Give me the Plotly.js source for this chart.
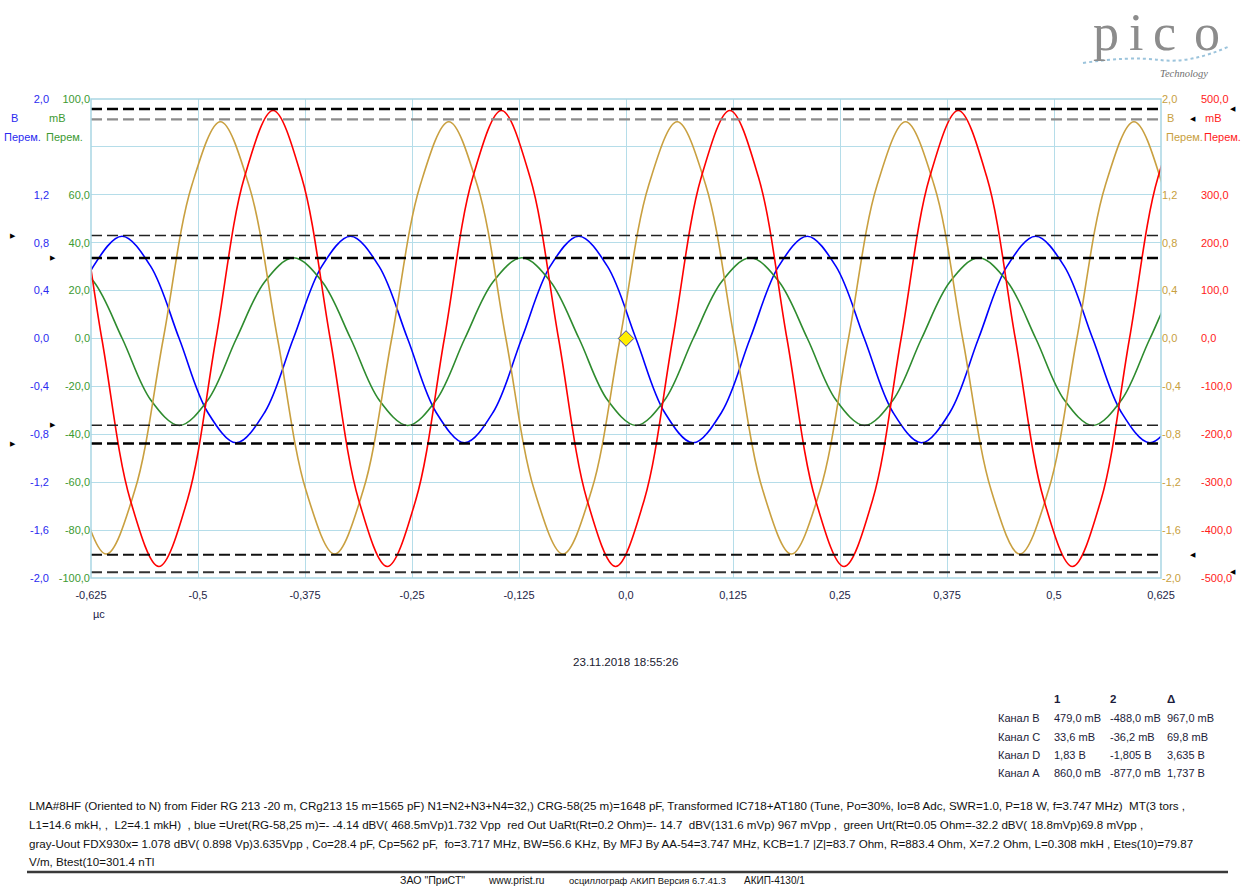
<!DOCTYPE html>
<html>
<head>
<meta charset="utf-8">
<script src="https://cdn.plot.ly/plotly-3.0.1.min.js"></script>
<style>html,body{margin:0;padding:0;background:#fff;}#chart{width:1250px;height:886px;}</style>
</head>
<body>
<div id="chart"></div>
<script>
// ---------- data ----------
const xTickVals = [-0.625,-0.5,-0.375,-0.25,-0.125,0,0.125,0.25,0.375,0.5,0.625];
const xTickText = ['-0,625','-0,5','-0,375','-0,25','-0,125','0,0','0,125','0,25','0,375','0,5','0,625'];
const vTickVals = [2,1.6,1.2,0.8,0.4,0,-0.4,-0.8,-1.2,-1.6,-2];
const vTickText = ['2,0','','1,2','0,8','0,4','0,0','-0,4','-0,8','-1,2','-1,6','-2,0'];
const mv100TickVals = [100,80,60,40,20,0,-20,-40,-60,-80,-100];
const mv100TickText = ['100,0','','60,0','40,0','20,0','0,0','-20,0','-40,0','-60,0','-80,0','-100,0'];
const mv500TickVals = [500,400,300,200,100,0,-100,-200,-300,-400,-500];
const mv500TickText = ['500,0','','300,0','200,0','100,0','0,0','-100,0','-200,0','-300,0','-400,0','-500,0'];

// Channel A (blue, V)
const chA_t = [-0.6888,-0.6554,-0.6221,-0.5887,-0.5554,-0.522,-0.4887,-0.4553,-0.422,-0.3886,-0.3553,-0.3219,-0.2886,-0.2552,-0.2219,-0.1885,-0.1552,-0.1218,-0.0885,-0.0551,-0.0218,0.0116,0.045,0.0783,0.1117,0.145,0.1784,0.2117,0.2451,0.2784,0.3118,0.3451,0.3785,0.4118,0.4452,0.4785,0.5119,0.5452,0.5786,0.6119,0.6453,0.6786];
const chA_v = [-0.616,0,0.604,0.854,0.604,0,-0.616,-0.871,
               -0.616,0,0.604,0.854,0.604,0,-0.616,-0.871,
               -0.616,0,0.604,0.854,0.604,0,-0.616,-0.871,
               -0.616,0,0.604,0.854,0.604,0,-0.616,-0.871,
               -0.616,0,0.604,0.854,0.604,0,-0.616,-0.871,
               -0.616,0];
// Channel B (red, mV)
const chB_t = [-0.6791,-0.6458,-0.6124,-0.5791,-0.5457,-0.5124,-0.479,-0.4457,-0.4123,-0.379,-0.3456,-0.3123,-0.2789,-0.2456,-0.2122,-0.1789,-0.1455,-0.1122,-0.0788,-0.0455,-0.0121,0.0213,0.0546,0.088,0.1213,0.1547,0.188,0.2214,0.2547,0.2881,0.3214,0.3548,0.3881,0.4215,0.4548,0.4882,0.5215,0.5549,0.5882,0.6216,0.6549,0.6883];
const chB_v = [476,337,0,-337,-476,-337,0,337,
               476,337,0,-337,-476,-337,0,337,
               476,337,0,-337,-476,-337,0,337,
               476,337,0,-337,-476,-337,0,337,
               476,337,0,-337,-476,-337,0,337,
               476,337];
// Channel C (green, mV)
const chC_t = [-0.6886,-0.6552,-0.6219,-0.5885,-0.5552,-0.5218,-0.4885,-0.4551,-0.4218,-0.3884,-0.3551,-0.3217,-0.2884,-0.255,-0.2217,-0.1883,-0.155,-0.1216,-0.0883,-0.0549,-0.0216,0.0118,0.0452,0.0785,0.1119,0.1452,0.1786,0.2119,0.2453,0.2786,0.312,0.3453,0.3787,0.412,0.4454,0.4787,0.5121,0.5454,0.5788,0.6121,0.6455,0.6788];
const chC_v = [23.8,33.7,23.8,0,-25.7,-36.3,-25.7,0,
               23.8,33.7,23.8,0,-25.7,-36.3,-25.7,0,
               23.8,33.7,23.8,0,-25.7,-36.3,-25.7,0,
               23.8,33.7,23.8,0,-25.7,-36.3,-25.7,0,
               23.8,33.7,23.8,0,-25.7,-36.3,-25.7,0,
               23.8,33.7];
// Channel D (gold, V)
const chD_t = [-0.6739,-0.6406,-0.6072,-0.5739,-0.5405,-0.5072,-0.4738,-0.4405,-0.4071,-0.3738,-0.3404,-0.3071,-0.2737,-0.2404,-0.207,-0.1737,-0.1403,-0.107,-0.0736,-0.0403,-0.0069,0.0265,0.0598,0.0932,0.1265,0.1599,0.1932,0.2266,0.2599,0.2933,0.3266,0.36,0.3933,0.4267,0.46,0.4934,0.5267,0.56,0.5934,0.6268,0.6601,0.6935];
const chD_v = [0,-1.27,-1.80,-1.27,0,1.28,1.81,1.28,
               0,-1.27,-1.80,-1.27,0,1.28,1.81,1.28,
               0,-1.27,-1.80,-1.27,0,1.28,1.81,1.28,
               0,-1.27,-1.80,-1.27,0,1.28,1.81,1.28,
               0,-1.27,-1.80,-1.27,0,1.28,1.81,1.28,
               0,-1.27];

// trigger point
const trigT = [0.0];
const trigV = [0.0];

// measurement rulers
const chA_rulers = [0.860, -0.877];
const chB_rulers = [479, -488];
const chC_rulers = [33.6, -36.2];
const chD_rulers = [1.83, -1.805];

// measurement table
const tableHeader = ['1', '2', 'Δ'];
const tableRows = ['Канал B', 'Канал C', 'Канал D', 'Канал A'];
const tableCol1 = ['479,0 mВ', '33,6 mВ', '1,83 В', '860,0 mВ'];
const tableCol2 = ['-488,0 mВ', '-36,2 mВ', '-1,805 В', '-877,0 mВ'];
const tableCol3 = ['967,0 mВ', '69,8 mВ', '3,635 В', '1,737 В'];

const dateText = '23.11.2018 18:55:26';
const noteLines = [
  'LMA#8HF (Oriented to N) from Fider RG 213 -20 m, CRg213 15 m=1565 pF) N1=N2+N3+N4=32,) CRG-58(25 m)=1648 pF, Transformed IC718+AT180 (Tune, Po=30%, Io=8 Adc, SWR=1.0, P=18 W, f=3.747 MHz)  MT(3 tors ,',
  'L1=14.6 mkH, ,  L2=4.1 mkH)  , blue =Uret(RG-58,25 m)=- -4.14 dBV( 468.5mVp)1.732 Vpp  red Out UaRt(Rt=0.2 Ohm)=- 14.7  dBV(131.6 mVp) 967 mVpp ,  green Urt(Rt=0.05 Ohm=-32.2 dBV( 18.8mVp)69.8 mVpp ,',
  'gray-Uout FDX930x= 1.078 dBV( 0.898 Vp)3.635Vpp , Co=28.4 pF, Cp=562 pF,  fo=3.717 MHz, BW=56.6 KHz, By MFJ By AA-54=3.747 MHz, KCB=1.7 |Z|=83.7 Ohm, R=883.4 Ohm, X=7.2 Ohm, L=0.308 mkH , Etes(10)=79.87',
  'V/m, Btest(10=301.4 nTl'
];
const footerParts = ['ЗАО "ПриСТ"', 'www.prist.ru', 'осциллограф АКИП Версия 6.7.41.3', 'АКИП-4130/1'];
const logoLetters = ['p', 'i', 'c', 'o'];

// ---------- styling ----------
const W = 1250, H = 886;
const px = X => X / W;
const py = Y => (H - Y) / H;
const FONT = 'Liberation Sans, Arial, sans-serif';
const C_BLUE = '#0000ff', C_RED = '#ff0000', C_GREEN = '#2e8b2e', C_GOLD = '#c9a040';
const T_BLUE = '#2a2af0', T_RED = '#ff1a1a', T_GREEN = '#3c9a32', T_GOLD = '#c8a040';
const GRID = '#b5dde9';
const DASH = '11px,5px';

const lineTrace = (t, v, yaxis, color, name) => ({
  x: t, y: v, yaxis: yaxis, xaxis: 'x', type: 'scatter', mode: 'lines', name: name,
  line: {color: color, width: 1.6, shape: 'spline', smoothing: 1},
  hoverinfo: 'skip'
});

const traces = [
  lineTrace(chA_t, chA_v, 'y', C_BLUE, 'Канал A'),
  lineTrace(chB_t, chB_v, 'y4', C_RED, 'Канал B'),
  lineTrace(chC_t, chC_v, 'y2', C_GREEN, 'Канал C'),
  lineTrace(chD_t, chD_v, 'y3', C_GOLD, 'Канал D'),
  {x: trigT, y: trigV, xaxis: 'x', yaxis: 'y3', type: 'scatter', mode: 'markers',
   marker: {symbol: 'diamond', size: 12, color: '#ffee00', line: {color: '#4040a0', width: 1}}, hoverinfo: 'skip'}
];

const shapes = [];
function rulers(vals, yref, styles) {
  vals.forEach((v, i) => {
    shapes.push({type: 'line', xref: 'x domain', yref: yref, x0: 0, x1: 1, y0: v, y1: v,
      line: {color: styles[i].c, width: styles[i].w, dash: DASH}, layer: 'above'});
  });
}
rulers(chA_rulers, 'y', [{c: '#222', w: 1.6}, {c: '#000', w: 2.6}]);
rulers(chB_rulers, 'y4', [{c: '#000', w: 2.6}, {c: '#333', w: 2.2}]);
rulers(chC_rulers, 'y2', [{c: '#000', w: 2.6}, {c: '#222', w: 1.6}]);
rulers(chD_rulers, 'y3', [{c: '#8c8c8c', w: 2.4}, {c: '#111', w: 2}]);

// plot frame
shapes.push({type: 'rect', xref: 'x domain', yref: 'y domain', x0: 0, x1: 1, y0: 0, y1: 1,
  line: {color: '#a9d6e4', width: 1.5}, layer: 'above'});
// separator rule
shapes.push({type: 'line', xref: 'paper', yref: 'paper', x0: px(27), x1: px(1228), y0: py(872), y1: py(872),
  line: {color: '#3a3a3a', width: 2.5}});
// logo dotted swoosh
shapes.push({type: 'path', xref: 'paper', yref: 'paper',
  path: `M ${px(1083)} ${py(63)} Q ${px(1130)} ${py(56)} ${px(1160)} ${py(60)} T ${px(1230)} ${py(46)}`,
  line: {color: '#9cc4dc', width: 2, dash: 'dot'}});

const annotations = [];
function txt(text, X, Y, color, size, anchor, extra) {
  annotations.push(Object.assign({text: text, xref: 'paper', yref: 'paper', x: px(X), y: py(Y),
    xanchor: anchor || 'left', yanchor: 'middle', showarrow: false,
    font: {family: FONT, size: size || 11, color: color}}, extra || {}));
}
// unit labels
txt('В', 9, 118, T_BLUE, 11);
txt('Перем.', 43, 137, T_BLUE, 11, 'right');
txt('mВ', 57, 118, T_GREEN, 11, 'center');
txt('Перем.', 44, 137, T_GREEN, 11);
txt('В', 1165, 118, T_GOLD, 11);
txt('Перем.', 1164, 137, T_GOLD, 11);
txt('mВ', 1203, 118, T_RED, 11);
txt('Перем.', 1202, 137, T_RED, 11);
txt('µс', 99, 614, '#202048', 11, 'center');
txt(dateText, 626, 661, '#202030', 11.6, 'center');

// ruler handles
function handles(vals, yref, X, ch) {
  vals.forEach(v => annotations.push({text: ch, xref: 'paper', yref: yref, x: px(X), y: v,
    xanchor: 'center', yanchor: 'middle', showarrow: false, font: {family: 'DejaVu Sans', size: 7, color: '#000'}}));
}
handles(chA_rulers, 'y', 13, '▶');
handles(chC_rulers, 'y2', 53, '▶');
handles(chD_rulers, 'y3', 1193, '◀');
handles(chB_rulers, 'y4', 1233, '◀');

// table
const colX = [1052, 1108, 1165];
const rowY = [718, 737, 755, 773];
const TC = '#1c1c3a';
tableHeader.forEach((h, i) => txt('<b>' + h + '</b>', colX[i], 699, TC, 11.5));
tableRows.forEach((r, i) => {
  txt(r, 996, rowY[i], TC, 11);
  txt(tableCol1[i], colX[0], rowY[i], TC, 11);
  txt(tableCol2[i], colX[1], rowY[i], TC, 11);
  txt(tableCol3[i], colX[2], rowY[i], TC, 11);
});

// notes
const noteY = [805, 824, 843, 861];
noteLines.forEach((l, i) => txt(l, 27, noteY[i], '#111', 11.6));
const footX = [398, 486, 567, 742];
const footSize = [10.6, 10.2, 9.4, 10];
footerParts.forEach((f, i) => txt(f, footX[i], 880, '#111', footSize[i]));

// logo
const logoX = [1106, 1136, 1164, 1207];
logoLetters.forEach((ch, i) => txt(ch, logoX[i], 2, '#8c8c8c', 52, 'center',
  {yanchor: 'top', font: {family: 'Liberation Serif, DejaVu Serif, serif', size: 52, color: '#8c8c8c'}}));
txt('Technology', 1184, 73, '#707070', 10, 'center', {font: {family: 'Liberation Serif, serif', size: 10.5, color: '#707070', style: 'italic'}});

const yBase = {showline: false, zeroline: false, ticks: '', automargin: false, fixedrange: true};

const layout = {
  width: W, height: H,
  margin: {l: 0, r: 0, t: 0, b: 0},
  paper_bgcolor: '#ffffff', plot_bgcolor: '#ffffff',
  showlegend: false,
  font: {family: FONT, size: 11},
  xaxis: {domain: [px(91), px(1161)], range: [-0.625, 0.625], tickmode: 'array', tickvals: xTickVals, ticktext: xTickText,
    showgrid: true, gridcolor: GRID, gridwidth: 1, zeroline: false, showline: false,
    ticks: 'outside', ticklen: 7, tickcolor: 'rgba(0,0,0,0)', tickfont: {family: FONT, size: 11, color: '#1e1e46'},
    automargin: false, fixedrange: true},
  yaxis: Object.assign({}, yBase, {domain: [py(578), py(99)], range: [-2, 2], anchor: 'free', position: px(49), side: 'left',
    tickmode: 'array', tickvals: vTickVals, ticktext: vTickText, showgrid: true, gridcolor: GRID, gridwidth: 1,
    tickfont: {family: FONT, size: 11, color: T_BLUE}}),
  yaxis2: Object.assign({}, yBase, {range: [-100, 100], overlaying: 'y', anchor: 'x', side: 'left',
    tickmode: 'array', tickvals: mv100TickVals, ticktext: mv100TickText, showgrid: false,
    tickfont: {family: FONT, size: 11, color: T_GREEN}}),
  yaxis3: Object.assign({}, yBase, {range: [-2, 2], overlaying: 'y', anchor: 'x', side: 'right',
    tickmode: 'array', tickvals: vTickVals, ticktext: vTickText, showgrid: false,
    tickfont: {family: FONT, size: 11, color: T_GOLD}}),
  yaxis4: Object.assign({}, yBase, {range: [-500, 500], overlaying: 'y', anchor: 'free', position: px(1200), side: 'right',
    tickmode: 'array', tickvals: mv500TickVals, ticktext: mv500TickText, showgrid: false,
    tickfont: {family: FONT, size: 11, color: T_RED}}),
  shapes: shapes,
  annotations: annotations
};

Plotly.newPlot('chart', traces, layout, {staticPlot: true, displayModeBar: false});
</script>
</body>
</html>
